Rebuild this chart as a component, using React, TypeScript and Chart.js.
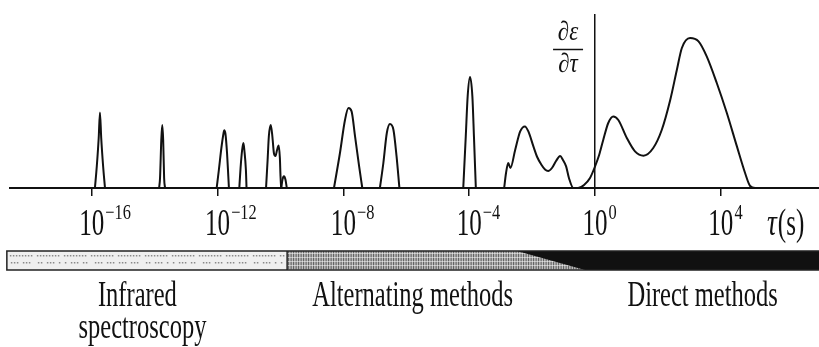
import React, { useEffect, useRef } from "react";
import { Chart, registerables } from "chart.js";

Chart.register(...registerables);

// x = log10(τ / s), y = ∂ε/∂τ (arbitrary units)
const irPeak1 = [[-15.9, 0], [-15.84, 22], [-15.78, 50], [-15.74, 75.6], [-15.7, 50], [-15.64, 22], [-15.58, 0]];
const irPeak2 = [[-13.86, 0], [-13.83, 10], [-13.79, 48], [-13.76, 63], [-13.73, 48], [-13.7, 10], [-13.67, 0]];
const irPeak3 = [[-12.03, 0], [-11.96, 18], [-11.88, 40], [-11.81, 55], [-11.79, 57.7], [-11.75, 54], [-11.7, 35], [-11.66, 12], [-11.64, 0]];
const irPeak4 = [[-11.31, 0], [-11.27, 20], [-11.22, 38], [-11.18, 45], [-11.15, 38], [-11.1, 18], [-11.08, 0]];
const irPeak5 = [[-10.46, 0], [-10.41, 28], [-10.37, 52], [-10.31, 63], [-10.26, 52], [-10.21, 35], [-10.16, 32], [-10.11, 38], [-10.06, 42.6], [-10.02, 30], [-10.0, 12], [-9.98, 0]];
const irPeak6 = [[-9.975, 0], [-9.94, 8], [-9.89, 11.7], [-9.84, 8], [-9.8, 0]];
const altPeak1 = [[-8.3, 0], [-8.11, 35], [-7.95, 68], [-7.84, 80], [-7.74, 76.6], [-7.63, 51.6], [-7.5, 21.6], [-7.4, 0]];
const altPeak2 = [[-6.84, 0], [-6.73, 25], [-6.62, 55], [-6.52, 64], [-6.41, 58.3], [-6.31, 31.6], [-6.22, 0]];
const altPeak3 = [[-4.19, 0], [-4.11, 51.6], [-4.05, 91.6], [-3.975, 111], [-3.9, 91.6], [-3.85, 51.6], [-3.79, 0]];
const broadBand = [
  [-2.89, 0], [-2.83, 15], [-2.76, 25], [-2.69, 20], [-2.54, 38], [-2.38, 56.6], [-2.23, 61.6], [-2.12, 56.6],
  [-1.96, 41.6], [-1.84, 31], [-1.7, 23], [-1.59, 18.5], [-1.49, 17], [-1.37, 20], [-1.24, 27], [-1.11, 32],
  [-1.02, 28], [-0.92, 21.6], [-0.83, 10], [-0.69, 0], [-0.54, 0], [-0.35, 3], [-0.16, 10], [0, 21.6],
  [0.13, 33], [0.26, 48], [0.42, 65], [0.58, 71.6], [0.74, 68], [1.01, 50], [1.27, 36.6], [1.54, 32.3],
  [1.85, 40], [2.12, 58], [2.39, 88], [2.6, 118], [2.76, 140], [3.02, 150], [3.29, 146.6], [3.55, 131.6],
  [3.87, 105], [4.19, 75], [4.51, 41.6], [4.77, 15], [4.93, 2], [5.09, 0], [5.25, 0],
];

const PEAKS = [irPeak1, irPeak2, irPeak3, irPeak4, irPeak5, irPeak6, altPeak1, altPeak2, altPeak3, broadBand];

// tick exponents on the τ axis
const TICK_EXPONENTS = [-16, -12, -8, -4, 0, 4];
const X_MIN = -18.6;
const X_MAX = 7.12;
const Y_MAX = 173;

// method band edges in log10(τ): start, dotted→hatched, black start (top), black start (bottom)
const METHOD_EDGES = [-18.7, -9.79, -2.48, -0.32];
const METHOD_NAMES = ["Infrared", "spectroscopy", "Alternating methods", "Direct methods"];

const SERIF = '"Liberation Serif", "DejaVu Serif", "Times New Roman", serif';

function textScaled(ctx: CanvasRenderingContext2D, text: string, x: number, y: number, font: string, sx: number, align: CanvasTextAlign) {
  ctx.save();
  ctx.font = font;
  ctx.textAlign = align;
  ctx.textBaseline = "alphabetic";
  ctx.fillStyle = "#111";
  ctx.translate(x, y);
  ctx.scale(sx, 1);
  ctx.fillText(text, 0, 0);
  ctx.restore();
}

function widthScaled(ctx: CanvasRenderingContext2D, text: string, font: string, sx: number) {
  ctx.save();
  ctx.font = font;
  const w = ctx.measureText(text).width * sx;
  ctx.restore();
  return w;
}

const overlayPlugin = {
  id: "overlay",
  afterDraw(chart: any) {
    const ctx: CanvasRenderingContext2D = chart.ctx;
    const xs = chart.scales.x;
    const width = chart.width;

    // tick labels 10^n
    const baseFont = `38px ${SERIF}`;
    const expFont = `21px ${SERIF}`;
    xs.ticks.forEach((t: any) => {
      const px = xs.getPixelForValue(t.value);
      const w = widthScaled(ctx, "10", baseFont, 0.66);
      textScaled(ctx, "10", px, 235, baseFont, 0.66, "center");
      const exp = t.value < 0 ? "\u2212" + Math.abs(t.value) : String(t.value);
      textScaled(ctx, exp, px + w / 2 + 1, 219, expFont, 0.78, "left");
    });

    // axis title τ(s)
    const tauFont = `italic 38px ${SERIF}`;
    const tx = 767;
    textScaled(ctx, "τ", tx, 235, tauFont, 0.72, "left");
    const wt = widthScaled(ctx, "τ", tauFont, 0.72);
    textScaled(ctx, "(s)", tx + wt + 1, 235, `38px ${SERIF}`, 0.66, "left");

    // y label ∂ε/∂τ
    const x0 = xs.getPixelForValue(0);
    const fc = x0 - 27;
    const fracFont = `italic 27px ${SERIF}`;
    textScaled(ctx, "∂ε", fc, 40, fracFont, 0.85, "center");
    textScaled(ctx, "∂τ", fc, 72, fracFont, 0.85, "center");
    ctx.save();
    ctx.strokeStyle = "#111";
    ctx.lineWidth = 1.5;
    ctx.beginPath();
    ctx.moveTo(fc - 15, 49.5);
    ctx.lineTo(fc + 15, 49.5);
    ctx.stroke();
    ctx.restore();

    // method band
    const top = 251;
    const bot = 270;
    const xA = xs.getPixelForValue(METHOD_EDGES[0]);
    const xB = xs.getPixelForValue(METHOD_EDGES[1]);
    const xT = xs.getPixelForValue(METHOD_EDGES[2]);
    const xBt = xs.getPixelForValue(METHOD_EDGES[3]);
    ctx.save();
    // dotted (infrared)
    ctx.fillStyle = "#efefef";
    ctx.fillRect(xA, top, xB - xA, bot - top);
    ctx.fillStyle = "#8a8a8a";
    let k = 0;
    for (let x = xA + 3; x < xB - 2; x += 3, k++) {
      if (k % 9 === 8) continue;
      ctx.fillRect(x, top + 4, 1.5, 1.5);
      if (k % 4 !== 3) ctx.fillRect(x + 1, top + 11, 1.5, 1.5);
    }
    // hatched (alternating)
    ctx.fillStyle = "#bdbdbd";
    ctx.fillRect(xB, top, xBt - xB, bot - top);
    ctx.fillStyle = "#5a5a5a";
    for (let x = xB + 1; x < xBt; x += 2.5) ctx.fillRect(x, top, 1, bot - top);
    ctx.fillStyle = "rgba(255,255,255,0.5)";
    for (let y = top + 2; y < bot; y += 4) ctx.fillRect(xB, y, xBt - xB, 1);
    // black (direct)
    ctx.fillStyle = "#111";
    ctx.beginPath();
    ctx.moveTo(xT, top);
    ctx.lineTo(width, top);
    ctx.lineTo(width, bot);
    ctx.lineTo(xBt, bot);
    ctx.closePath();
    ctx.fill();
    // outline
    ctx.strokeStyle = "#222";
    ctx.lineWidth = 1.5;
    ctx.strokeRect(xA, top, width - xA + 2, bot - top);
    ctx.beginPath();
    ctx.moveTo(xB, top);
    ctx.lineTo(xB, bot);
    ctx.stroke();
    ctx.restore();

    // method labels
    const lf = `35px ${SERIF}`;
    textScaled(ctx, METHOD_NAMES[0], xs.getPixelForValue(-14.55), 306, lf, 0.7, "center");
    textScaled(ctx, METHOD_NAMES[1], xs.getPixelForValue(-14.39), 338, lf, 0.7, "center");
    textScaled(ctx, METHOD_NAMES[2], xs.getPixelForValue(-5.8), 306, lf, 0.7, "center");
    textScaled(ctx, METHOD_NAMES[3], xs.getPixelForValue(3.42), 306, lf, 0.7, "center");
  },
};

export default function App() {
  const ref = useRef<HTMLCanvasElement | null>(null);

  useEffect(() => {
    if (!ref.current) return;
    const datasets = PEAKS.map((p) => ({
      data: p.map(([x, y]) => ({ x, y })),
      borderColor: "#111",
      borderWidth: 2,
      pointRadius: 0,
      showLine: true,
      fill: false,
      cubicInterpolationMode: "monotone" as const,
      clip: false as any,
    }));
    const chart = new Chart(ref.current, {
      type: "scatter",
      data: { datasets },
      options: {
        animation: false,
        responsive: false,
        events: [],
        layout: { padding: { left: 10, right: 0, top: 15, bottom: 151 } },
        plugins: { legend: { display: false }, tooltip: { enabled: false } },
        scales: {
          x: {
            type: "linear",
            min: X_MIN,
            max: X_MAX,
            position: "bottom",
            afterBuildTicks: (s: any) => {
              s.ticks = TICK_EXPONENTS.map((v) => ({ value: v }));
            },
            afterFit: (s: any) => {
              s.height = 8;
            },
            ticks: { display: false },
            grid: { display: true, drawOnChartArea: false, drawTicks: true, tickLength: 8, color: "#111", lineWidth: 1.5 },
            border: { display: true, color: "#111", width: 2 },
          },
          y: {
            type: "linear",
            min: 0,
            max: Y_MAX,
            position: { x: 0 } as any,
            ticks: { display: false },
            grid: { display: true, drawOnChartArea: false, drawTicks: false },
            border: { display: true, color: "#111", width: 1.5 },
          },
        },
      },
      plugins: [overlayPlugin],
    });
    return () => chart.destroy();
  }, []);

  return (
    <div style={{ position: "absolute", left: 0, top: 0, width: 819, height: 347, background: "#fff" }}>
      <canvas ref={ref} width={819} height={347} style={{ display: "block" }} />
    </div>
  );
}
